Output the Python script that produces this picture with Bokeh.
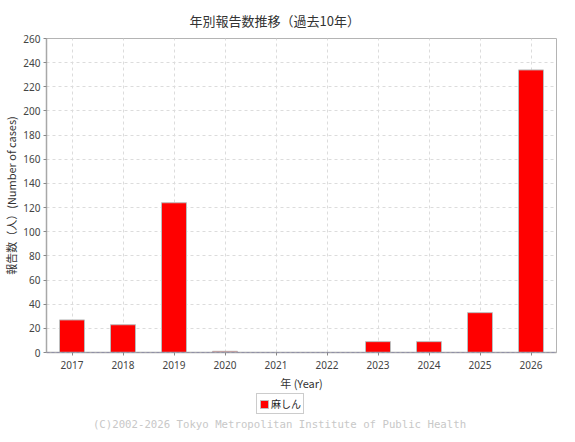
from bokeh.plotting import figure
from bokeh.layouts import column
from bokeh.models import (ColumnDataSource, Range1d, FactorRange, Span, Legend, LegendItem,
                          Label, FixedTicker)
from bokeh.embed import file_html
from bokeh.resources import INLINE

years = ["2017", "2018", "2019", "2020", "2021", "2022", "2023", "2024", "2025", "2026"]
cases = [27, 23, 124, 1, 0, 0, 9, 9, 33, 234]
series_name = "麻しん"
y_ticks = list(range(0, 261, 20))

title_text = "年別報告数推移（過去10年）"
x_label = "年 (Year)"
y_label = "報告数（人）(Number of cases)"
footer_text = "(C)2002-2026 Tokyo Metropolitan Institute of Public Health"

JP = "Noto Sans CJK JP"
BAR_FILL = "#ff0000"
BAR_LINE = "#bdbdbd"

src = ColumnDataSource(dict(year=years, cases=cases))

p = figure(frame_width=510, frame_height=314, output_backend="svg", toolbar_location=None,
           x_range=FactorRange(*years, range_padding=0), y_range=Range1d(0, 260),
           min_border_left=46, min_border_right=11, min_border_top=38, min_border_bottom=40)

r = p.vbar(x="year", top="cases", width=0.49, source=src,
           fill_color=BAR_FILL, line_color=BAR_LINE, line_width=1)

# title
p.title.text = title_text
p.title.align = "left"
p.title.offset = 143
p.title.text_font = JP
p.title.text_font_size = "13px"
p.title.text_font_style = "normal"
p.title.text_color = "#333333"
p.title.standoff = 17

# frame
p.outline_line_color = "#b4b4b4"
p.outline_line_width = 1
p.background_fill_color = "white"
p.border_fill_color = "white"

# grids
for g in (p.xgrid, p.ygrid):
    g.grid_line_color = "#dcdcdc"
    g.grid_line_dash = "3 3"
    g.grid_line_width = 1
p.ygrid.ticker = FixedTicker(ticks=y_ticks)

# axes
p.yaxis.ticker = FixedTicker(ticks=y_ticks)
for ax in (p.xaxis[0], p.yaxis[0]):
    ax.axis_line_color = "#a8a8a8"
    ax.axis_line_width = 1.5
    ax.major_tick_line_color = "#888888"
    ax.major_tick_in = 0
    ax.major_tick_out = 3
    ax.minor_tick_line_color = None
    ax.major_label_text_font = "Noto Sans"
    ax.major_label_text_font_size = "10px"
    ax.major_label_text_color = "#444444"
    ax.axis_label_text_font = JP
    ax.axis_label_text_font_style = "normal"
    ax.axis_label_text_color = "#333333"
p.xaxis.axis_label = x_label
p.xaxis.axis_label_text_font_size = "11px"
p.xaxis.axis_label_standoff = 3
p.xaxis.major_label_standoff = 5
p.yaxis.axis_label = y_label
p.yaxis.axis_label_text_font_size = "11px"
p.yaxis.axis_label_standoff = 1
p.yaxis.major_label_standoff = 3

# zero baseline
p.add_layout(Span(location=0, dimension="width", line_color="#7a7aa8", line_dash="3 2", line_width=1))

# bottom strip: legend + footer (x in page pixels, aligned with the main frame)
p2 = figure(frame_width=510, frame_height=40, output_backend="svg", toolbar_location=None,
            x_range=Range1d(46, 556), y_range=Range1d(0, 40), min_border=0)
p2.title = None
p2.axis.visible = False
p2.grid.visible = False
p2.outline_line_color = None
p2.border_fill_color = "white"
# legend proxy glyph (same styling as the bars, kept outside the visible range)
r2 = p2.vbar(x=[0], top=[0], width=1, fill_color=BAR_FILL, line_color=BAR_LINE, line_width=1)

legend = Legend(items=[LegendItem(label=series_name, renderers=[r2])],
                orientation="horizontal", location=(256, 19),
                border_line_color="#9a9a9a", border_line_width=1,
                background_fill_color="white", background_fill_alpha=1,
                label_text_font=JP, label_text_font_size="10px", label_text_color="#222222",
                glyph_width=10, glyph_height=10, padding=2, margin=0, spacing=2,
                label_standoff=2, label_height=12, label_width=10)
p2.add_layout(legend)

p2.add_layout(Label(x=279, y=9, text=footer_text, text_align="center", text_baseline="middle",
                    text_font="DejaVu Sans Mono", text_font_size="10.7px", text_color="#c8c8c8"))

open("out.html", "w").write(file_html(column(p, p2), INLINE))
